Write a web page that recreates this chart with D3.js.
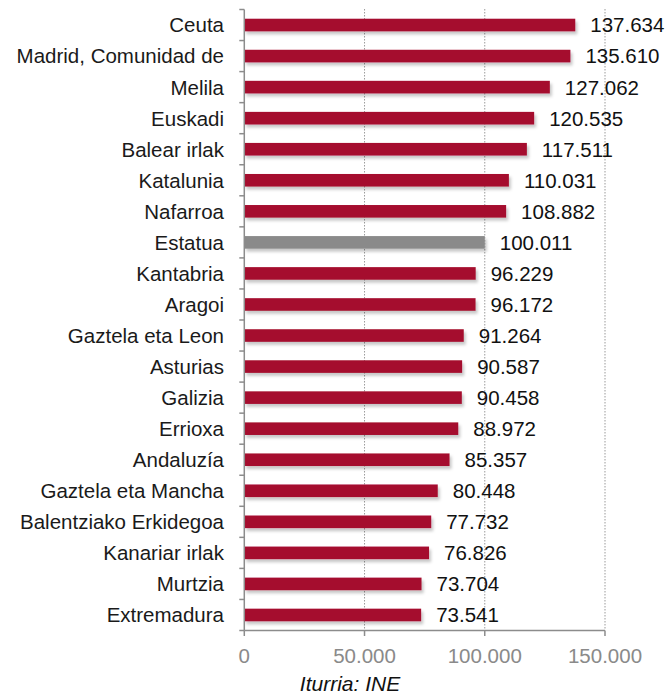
<!DOCTYPE html>
<html><head><meta charset="utf-8">
<script src="https://cdn.jsdelivr.net/npm/d3@7"></script>
<style>
html,body{margin:0;padding:0;background:#fff;}
svg{display:block;}
text{font-family:"Liberation Sans",Arial,sans-serif;}
</style></head>
<body>
<svg id="chart" width="666" height="697"></svg>
<script>
const categories = ["Ceuta","Madrid, Comunidad de","Melila","Euskadi","Balear irlak","Katalunia","Nafarroa","Estatua","Kantabria","Aragoi","Gaztela eta Leon","Asturias","Galizia","Errioxa","Andaluzía","Gaztela eta Mancha","Balentziako Erkidegoa","Kanariar irlak","Murtzia","Extremadura"];
const values = [137634,135610,127062,120535,117511,110031,108882,100011,96229,96172,91264,90587,90458,88972,85357,80448,77732,76826,73704,73541];
const valueLabels = ["137.634","135.610","127.062","120.535","117.511","110.031","108.882","100.011","96.229","96.172","91.264","90.587","90.458","88.972","85.357","80.448","77.732","76.826","73.704","73.541"];
const xTicks = [0,50000,100000,150000];
const xTickLabels = ["0","50.000","100.000","150.000"];
const highlight = "Estatua";
const sourceText = "Iturria: INE";

const svg = d3.select("#chart");
const defs = svg.append("defs");
const f = defs.append("filter").attr("id","sh").attr("x","-5%").attr("y","-50%").attr("width","110%").attr("height","250%");
f.append("feDropShadow").attr("dx",2).attr("dy",3).attr("stdDeviation",1.6).attr("flood-color","#000").attr("flood-opacity",0.22);

const x = d3.scaleLinear().domain([0,150000]).range([244.3,605]);
const band = d3.scaleBand().domain(categories).range([9.5,630.5]);

// gridlines
svg.append("g").selectAll("line").data(xTicks.slice(1)).join("line")
  .attr("x1",d=>x(d)).attr("x2",d=>x(d)).attr("y1",9).attr("y2",630)
  .attr("stroke","#9a9a9a").attr("stroke-width",1).attr("stroke-dasharray","1.5,1.5");

// bars
svg.append("g").selectAll("rect").data(categories).join("rect")
  .attr("x",x(0)).attr("y",d=>band(d)+band.bandwidth()/2-6.3)
  .attr("width",(d,i)=>x(values[i])-x(0)).attr("height",12.6)
  .attr("fill",d=>d===highlight?"#8a8a8a":"#a50d2f")
  .attr("filter","url(#sh)");

// value labels
svg.append("g").selectAll("text").data(categories).join("text")
  .attr("x",(d,i)=>x(values[i])+15).attr("y",d=>band(d)+band.bandwidth()/2)
  .attr("dy","0.36em").attr("font-size","20.5px").attr("fill","#111")
  .text((d,i)=>valueLabels[i]);

// y axis
const yAxis = svg.append("g");
yAxis.append("line").attr("x1",x(0)).attr("x2",x(0)).attr("y1",9.5).attr("y2",630.5).attr("stroke","#8c8c8c").attr("stroke-width",1.5);
const bounds = categories.map(c=>band(c)).concat([band(categories[categories.length-1])+band.bandwidth()]);
yAxis.selectAll("line.t").data(bounds).join("line").attr("class","t")
  .attr("x1",x(0)-5).attr("x2",x(0)).attr("y1",d=>d).attr("y2",d=>d)
  .attr("stroke","#8c8c8c").attr("stroke-width",1.5);
yAxis.selectAll("text").data(categories).join("text")
  .attr("x",224).attr("y",d=>band(d)+band.bandwidth()/2).attr("dy","0.36em")
  .attr("text-anchor","end").attr("font-size","20.5px").attr("fill","#1a1a1a")
  .text(d=>d);

// x axis
const xAxis = svg.append("g");
xAxis.append("line").attr("x1",x(0)).attr("x2",x(150000)).attr("y1",630.5).attr("y2",630.5).attr("stroke","#8c8c8c").attr("stroke-width",1.5);
xAxis.selectAll("line.t").data(xTicks).join("line").attr("class","t")
  .attr("x1",d=>x(d)).attr("x2",d=>x(d)).attr("y1",630.5).attr("y2",636)
  .attr("stroke","#8c8c8c").attr("stroke-width",1.5);
xAxis.selectAll("text").data(xTicks).join("text")
  .attr("x",d=>x(d)).attr("y",663).attr("text-anchor","middle")
  .attr("font-size","20.5px").attr("fill","#8a8a8a")
  .text((d,i)=>xTickLabels[i]);

svg.append("text").attr("x",350).attr("y",691).attr("text-anchor","middle")
  .attr("font-size","21px").attr("font-style","italic").attr("fill","#111").text(sourceText);
</script>
</body></html>
